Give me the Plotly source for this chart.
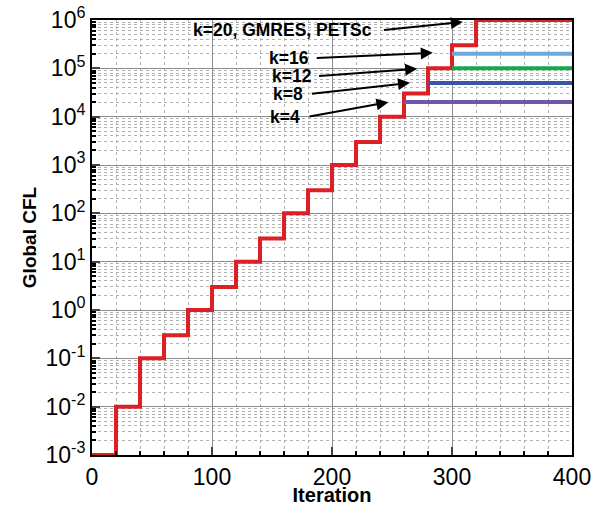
import plotly.graph_objects as go

# Data
iter_steps = [0, 20, 40, 60, 80, 100, 120, 140, 160, 180, 200, 220, 240, 260, 280, 300, 320, 400]
cfl_k20 = [1e-3, 1e-2, 1e-1, 0.3, 1, 3, 10, 30, 100, 300, 1e3, 3e3, 1e4, 3e4, 1e5, 3e5, 1e6, 1e6]

k4_x = [260, 400]
k4_y = [2e4, 2e4]
k8_x = [280, 400]
k8_y = [5e4, 5e4]
k12_x = [300, 400]
k12_y = [1e5, 1e5]
k16_x = [300, 400]
k16_y = [2e5, 2e5]

labels = ["k=20, GMRES, PETSc", "k=16", "k=12", "k=8", "k=4"]
# arrow tips (iteration, log10 CFL) and text centres
tip_x = [309, 284, 271, 265, 247]
tip_logy = [5.96, 5.32, 4.99, 4.70, 4.30]
txt_x = [159, 164, 167, 163, 161]
txt_logy = [5.79, 5.21, 4.84, 4.47, 4.00]
tail_x = [242, 186, 188, 182, 180]

RED = "#dd1f26"
fig = go.Figure()
fig.add_trace(go.Scatter(x=iter_steps, y=cfl_k20, mode="lines", line=dict(color=RED, width=4, shape="hv"), showlegend=False))
for xs, ys, c in [(k4_x, k4_y, "#7157a8"), (k8_x, k8_y, "#3a55a5"), (k12_x, k12_y, "#17a84a"), (k16_x, k16_y, "#6ea9dc")]:
    fig.add_trace(go.Scatter(x=xs, y=ys, mode="lines", line=dict(color=c, width=4), showlegend=False))

FONT = "Liberation Sans, Arial, sans-serif"
ann = []
for i, lab in enumerate(labels):
    ann.append(dict(x=txt_x[i], y=txt_logy[i], text="<b>%s</b>" % lab, showarrow=False,
                    font=dict(family=FONT, size=17.5, color="black")))
    ann.append(dict(x=tip_x[i], y=tip_logy[i], ax=tail_x[i], ay=txt_logy[i], axref="x", ayref="y",
                    text="", showarrow=True, arrowhead=2, arrowsize=1.2, arrowwidth=2, arrowcolor="black"))

major_y = [10.0 ** e for e in range(-3, 7)]
major_txt = ["10<sup>%d</sup>" % e for e in range(-3, 7)]
minor_y = [m * 10.0 ** e for e in range(-3, 6) for m in range(2, 10)]

fig.update_layout(
    width=601, height=506,
    margin=dict(l=92, r=29, t=20, b=51),
    paper_bgcolor="white", plot_bgcolor="white",
    font=dict(family=FONT, color="black"),
    annotations=ann,
    xaxis=dict(range=[0, 400], tickvals=[0, 100, 200, 300, 400], ticks="inside", ticklen=8, tickwidth=2,
               tickfont=dict(size=23), showgrid=True, gridcolor="#8c8c8c", gridwidth=1, automargin=False,
               showline=True, linecolor="black", linewidth=2, mirror=True, zeroline=False,
               minor=dict(tickvals=list(range(20, 400, 20)), ticks="inside", ticklen=4, tickcolor="black",
                          showgrid=True, gridcolor="#b0b0b0", griddash="dot", gridwidth=1),
               title=dict(text="<b>Iteration</b>", font=dict(size=20), standoff=2)),
    yaxis=dict(type="log", range=[-3, 6], tickvals=major_y, ticktext=major_txt, ticks="inside", ticklen=8, tickwidth=2,
               tickfont=dict(size=23), showgrid=True, gridcolor="#8c8c8c", gridwidth=1, automargin=False,
               showline=True, linecolor="black", linewidth=2, mirror=True, zeroline=False,
               minor=dict(tickvals=minor_y, ticks="inside", ticklen=4, tickcolor="black",
                          showgrid=True, gridcolor="#b0b0b0", griddash="dot", gridwidth=1),
               title=dict(text="<b>Global CFL</b>", font=dict(size=19), standoff=4)),
)
fig.write_html("out.html")
